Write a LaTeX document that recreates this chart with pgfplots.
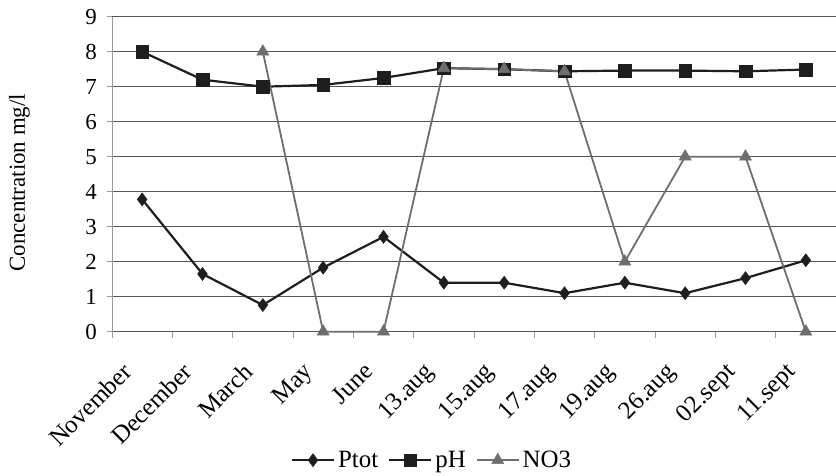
\documentclass[border=0pt]{standalone}
\usepackage{fontspec}
\setmainfont{Liberation Serif}
\usepackage{pgfplots}
\pgfplotsset{compat=1.18}
\definecolor{ink}{HTML}{1E1E1E}
\definecolor{no3}{HTML}{6E6E6E}
\definecolor{gridc}{HTML}{555555}
\definecolor{axisgray}{HTML}{9A9A9A}
\begin{document}
\begin{tikzpicture}
\begin{axis}[
  scale only axis, width=724bp, height=315bp,
  xmin=-0.5, xmax=11.5, ymin=0, ymax=9,
  xtick={0,...,11},
  xticklabels={November,December,March,May,June,13.aug,15.aug,17.aug,19.aug,26.aug,02.sept,11.sept},
  minor xtick={-0.5,0.5,...,11.5},
  ytick={0,...,9},
  /pgf/number format/assume math mode=true,
  ymajorgrids, major grid style={draw=gridc, line width=0.9bp},
  axis x line*=bottom, axis y line*=left,
  x axis line style={draw=gridc, line width=1bp},
  y axis line style={draw=axisgray, line width=0.8bp},
  tick align=outside,
  major x tick style={draw=none},
  minor x tick style={draw=axisgray, line width=0.8bp},
  minor tick length=6bp,
  ytick style={draw=axisgray, line width=0.8bp},
  major tick length=5bp,
  xticklabel style={shift={(-21bp,-23bp)}, rotate=45, anchor=north east, font=\fontsize{25}{29}\selectfont, inner sep=1bp},
  yticklabel style={font=\fontsize{23}{27}\selectfont, inner sep=1bp, xshift=-9bp},
  ylabel={Concentration mg/l},
  ylabel style={font=\fontsize{23}{27}\selectfont, at={(rel axis cs:-0.128,0.473)}, anchor=center},
  clip=false,
  legend style={at={(rel axis cs:0.442,-0.408)}, anchor=center, draw=none, fill=none,
     legend columns=-1, font=\fontsize{25}{29}\selectfont,
     /tikz/every even column/.append style={column sep=8bp},
     /tikz/every odd column/.append style={column sep=1bp}},
  legend image code/.code={
    \draw[mark repeat=2, mark phase=2] plot coordinates {(0bp,0bp) (21bp,0bp) (42bp,0bp)};
  },
]
\addplot[ink, line width=2.2bp, mark=diamond*, mark size=6.5bp, mark options={solid, fill=ink, line width=0.5bp}]
  coordinates {(0,3.78)(1,1.65)(2,0.76)(3,1.83)(4,2.71)(5,1.4)(6,1.4)(7,1.1)(8,1.4)(9,1.1)(10,1.53)(11,2.04)};
\addlegendentry{Ptot}
\addplot[ink, line width=2.2bp, mark=square*, mark size=6.3bp, mark options={solid, fill=ink, line width=0.5bp}]
  coordinates {(0,8.0)(1,7.2)(2,7.0)(3,7.05)(4,7.25)(5,7.53)(6,7.5)(7,7.44)(8,7.46)(9,7.46)(10,7.44)(11,7.49)};
\addlegendentry{pH}
\addplot[no3, line width=1.8bp, mark=triangle*, mark size=7bp, mark options={solid, fill=no3, line width=0.5bp}]
  coordinates {(2,8.0)(3,0)(4,0)(5,7.53)(6,7.5)(7,7.44)(8,2.0)(9,5.0)(10,5.0)(11,0)};
\addlegendentry{NO3}
\coordinate (bl) at (rel axis cs:0,0);
\coordinate (tr) at (rel axis cs:1,1);
\end{axis}
\pgfresetboundingbox
\path[use as bounding box] ([shift={(-112bp,-144bp)}]bl) rectangle ([shift={(0bp,16.7bp)}]tr);
\end{tikzpicture}
\end{document}
